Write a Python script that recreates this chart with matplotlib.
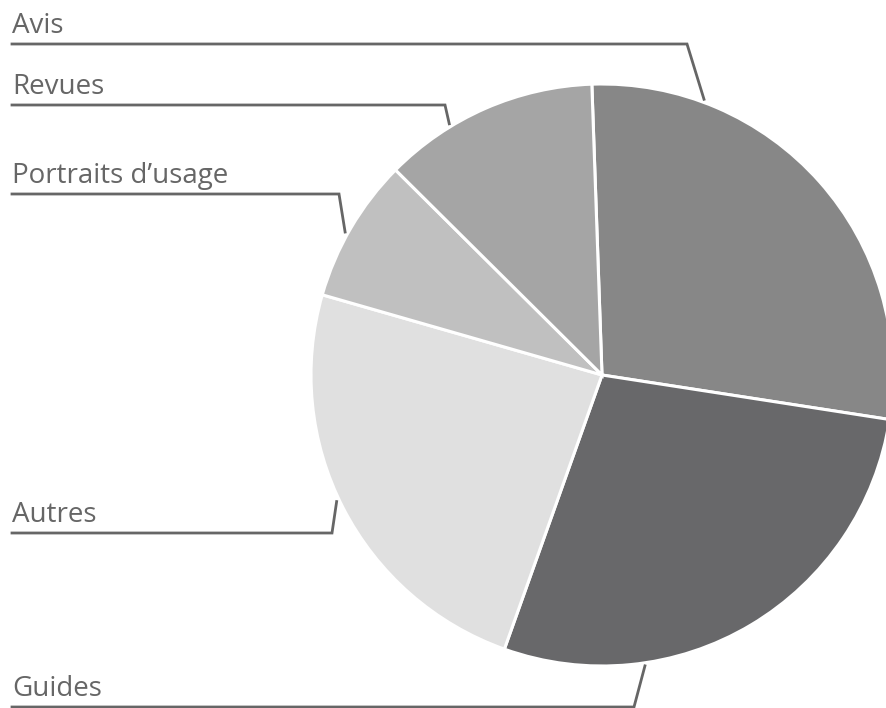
import numpy as np
import matplotlib
matplotlib.use('Agg')
import matplotlib.pyplot as plt

# slice data, clockwise from the top
labels = ['Avis', 'Guides', 'Autres', "Portraits d\u2019usage", 'Revues']
values = [28, 28, 24, 8, 12]
colors = ['#878787', '#68686a', '#e0e0e0', '#c0c0c0', '#a5a5a5']

# leader layout (pixel coords, y from top)
label_line_y = [44, 707, 533, 194, 105]
elbow_x = [687, 634, 332, 339, 445]
anchor_angle = [69.7, -81.6, 205.5, 150.9, 121.3]

W, H = 886, 708
cx, cy, R = 602, 375, 291

fig = plt.figure(figsize=(W / 100, H / 100), dpi=100)
ax = fig.add_axes([0, 0, 1, 1])
ax.pie(values, colors=colors, startangle=92, counterclock=False,
       center=(cx, H - cy), radius=R,
       wedgeprops=dict(edgecolor='white', linewidth=2.2))
ax.set_xlim(0, W)
ax.set_ylim(0, H)
ax.set_aspect('equal')
ax.axis('off')

line_col = '#666666'
for lab, ly, ex, ang in zip(labels, label_line_y, elbow_x, anchor_angle):
    a = np.deg2rad(ang)
    px = cx + (R + 3) * np.cos(a)
    py = (H - cy) + (R + 3) * np.sin(a)
    ax.plot([12, ex, px], [H - ly, H - ly, py], color=line_col, lw=2,
            solid_joinstyle='miter', clip_on=False)
    ax.text(12, H - ly + 11, lab, fontsize=20, color='#666666',
            family='Open Sans', va='baseline', ha='left')

fig.savefig('out.png', dpi=100)
